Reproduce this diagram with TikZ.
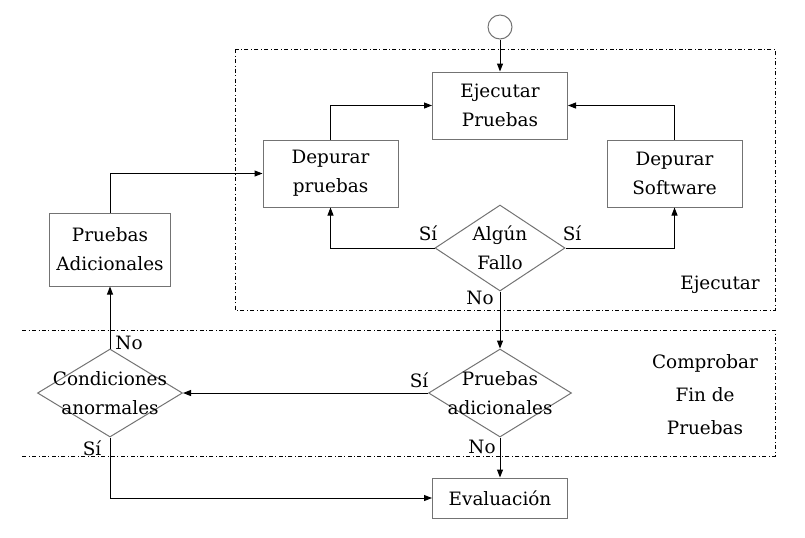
\documentclass[tikz,border=0pt]{standalone}
\usepackage{fontspec}
\setmainfont{DejaVu Serif}
\usetikzlibrary{positioning,arrows.meta,shapes.geometric}

\begin{document}
\begin{tikzpicture}[
        x=0.75pt, y=-0.75pt,
        box/.style={rectangle, draw=black!55, line width=0.75pt, minimum width=101.25pt, minimum height=50.25pt, align=center},
        decision/.style={diamond, draw=black!55, line width=0.75pt, inner sep=0pt},
        flow/.style={-{Triangle[length=6pt,width=4.5pt]}, line width=0.75pt},
        frame/.style={dash dot, line width=0.6pt},
        answer/.style={inner sep=0pt},
        font=\fontsize{13.8}{21.75}\selectfont
    ]
    \useasboundingbox (0,0) rectangle (805,537);

    % Ejecutar (top frame)
    \draw[frame] (235,49) rectangle (775,310);
    \node (ejlabel) at (720,285) {Ejecutar};

    % Comprobar fin de pruebas (open on the left)
    \draw[frame] (22,330) -- (775,330) -- (775,456) -- (22,456);
    \node[align=center, font=\fontsize{13.8}{24.75}\selectfont] (cplabel) at (705,395) {Comprobar\\Fin de\\Pruebas};

    % start
    \node[circle, draw=black!55, line width=0.75pt, minimum size=18pt, inner sep=0pt] (start) at (500,27) {};

    % boxes
    \node[box] (ejec) at (500,105.5) {Ejecutar\\Pruebas};
    \node[box] (deppr) at (330.5,173.5) {Depurar\\pruebas};
    \node[box] (depsw) at (674.5,173.5) {Depurar\\Software};
    \node[box, minimum width=90.75pt, minimum height=54.75pt] (pradic) at (110,249.5) {Pruebas\\Adicionales};
    \node[box, minimum height=30pt] (eval) at (500,498) {Evaluación};

    % decisions
    \node[decision, minimum width=97.5pt, minimum height=64.5pt] (fallo) at (500,248) {};
    \node[align=center] (fallo-txt) at (fallo) {Algún\\Fallo};
    \node[decision, minimum width=107.25pt, minimum height=66pt] (padic) at (500,393) {};
    \node[align=center] (padic-txt) at (padic) {Pruebas\\adicionales};
    \node[decision, minimum width=108.75pt, minimum height=66pt] (cond) at (110,393) {};
    \node[align=center] (cond-txt) at (cond) {Condiciones\\anormales};

    % straight connections
    \foreach \i/\j in {start.south/ejec.north,fallo.south/padic.north,padic.south/eval.north,padic.west/cond.east,cond.north/pradic.south} {
            \draw[flow] (\i) -- (\j);
        }

    % elbow connections
    \draw[flow] (deppr.north) |- (ejec.west);
    \draw[flow] (depsw.north) |- (ejec.east);
    \draw[flow] (fallo.west) -| (deppr.south);
    \draw[flow] (fallo.east) -| (depsw.south);
    \draw[flow] (pradic.north) |- (deppr.west);
    \draw[flow] (cond.south) |- (eval.west);

    % answers
    \node[answer] (si1) at (428,233) {Sí};
    \node[answer] (si2) at (572,233) {Sí};
    \node[answer] (no1) at (480,298) {No};
    \node[answer] (si3) at (419,380) {Sí};
    \node[answer] (no2) at (482,447) {No};
    \node[answer] (no3) at (129,343) {No};
    \node[answer] (si4) at (92,448) {Sí};

\end{tikzpicture}
\end{document}
